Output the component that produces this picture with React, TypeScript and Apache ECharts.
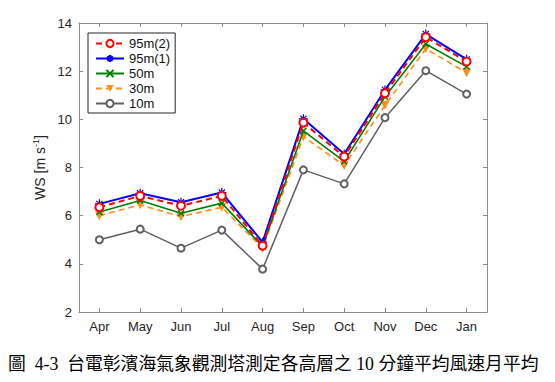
import React, { useEffect, useRef } from "react";
import * as echarts from "echarts";

const months = ["Apr", "May", "Jun", "Jul", "Aug", "Sep", "Oct", "Nov", "Dec", "Jan"];
const ws95m2 = [6.35, 6.82, 6.41, 6.82, 4.75, 9.86, 8.45, 11.08, 13.41, 12.4];
const ws95m1 = [6.49, 6.93, 6.56, 6.96, 4.9, 10.02, 8.56, 11.22, 13.54, 12.49];
const ws50m = [6.15, 6.63, 6.1, 6.52, 4.72, 9.52, 8.25, 10.94, 13.13, 12.19];
const ws30m = [6.0, 6.45, 5.96, 6.35, 4.65, 9.28, 8.08, 10.58, 12.93, 11.93];
const ws10m = [5.0, 5.44, 4.65, 5.4, 3.78, 7.9, 7.32, 10.07, 12.02, 11.05];
const yTicks = { min: 2, max: 14, interval: 2 };
const caption = "圖  4-3  台電彰濱海氣象觀測塔測定各高層之 10 分鐘平均風速月平均";

const FONT = "'Liberation Sans', Arial, Helvetica, sans-serif";
const AXIS_COLOR = "#8c8c8c";
const LABEL_COLOR = "#262626";

const asterisk = "path://M5,0L5,10M0,5L10,5M1.6,1.6L8.4,8.4M8.4,1.6L1.6,8.4";
const cross = "path://M0,0L10,10M10,0L0,10";

export default function App() {
  const ref = useRef<HTMLDivElement>(null);
  useEffect(() => {
    if (!ref.current) return;
    const chart = echarts.init(ref.current, undefined, { renderer: "svg" });
    const axisCommon = {
      axisLine: { show: true, lineStyle: { color: AXIS_COLOR, width: 1 } },
      axisTick: { show: true, inside: true, length: 4, lineStyle: { color: AXIS_COLOR } },
      splitLine: { show: false },
    };
    chart.setOption({
      animation: false,
      backgroundColor: "#ffffff",
      textStyle: { fontFamily: FONT },
      grid: { left: 79, right: 68, top: 23, bottom: 70, containLabel: false },
      legend: {
        orient: "vertical",
        left: 88,
        top: 33,
        backgroundColor: "#ffffff",
        borderColor: "#262626",
        borderWidth: 1,
        padding: [4, 5, 3, 7],
        itemWidth: 28,
        itemHeight: 9,
        itemGap: 2,
        textStyle: { fontSize: 13, color: "#111", fontFamily: FONT },
        data: ["95m(2)", "95m(1)", "50m", "30m", "10m"],
      },
      xAxis: [
        {
          type: "category",
          data: months,
          position: "bottom",
          boundaryGap: true,
          ...axisCommon,
          axisTick: { ...axisCommon.axisTick, alignWithLabel: true },
          axisLabel: { color: LABEL_COLOR, fontSize: 13, margin: 8, fontFamily: FONT },
        },
        {
          type: "category",
          data: months,
          position: "top",
          boundaryGap: true,
          ...axisCommon,
          axisTick: { ...axisCommon.axisTick, alignWithLabel: true },
          axisLabel: { show: false },
        },
      ],
      yAxis: [
        {
          type: "value",
          position: "left",
          ...yTicks,
          ...axisCommon,
          axisLabel: { color: LABEL_COLOR, fontSize: 13, margin: 7, fontFamily: FONT },
          name: "{a|WS [m s}{s|-1}{a|]}",
          nameLocation: "middle",
          nameGap: 22,
          nameTextStyle: {
            rich: {
              a: { fontSize: 14, color: LABEL_COLOR, fontFamily: FONT },
              s: { fontSize: 9, color: LABEL_COLOR, fontFamily: FONT, verticalAlign: "top", padding: [0, 0, 7, 0] },
            },
          },
        },
        {
          type: "value",
          position: "right",
          ...yTicks,
          ...axisCommon,
          axisLabel: { show: false },
        },
      ],
      series: [
        {
          name: "95m(1)",
          type: "line",
          data: ws95m1,
          symbol: asterisk,
          symbolSize: 9,
          lineStyle: { color: "#0000ff", width: 2, type: "solid" },
          itemStyle: { color: "#0000ff", borderColor: "#0000ff", borderWidth: 1.2 },
          z: 3,
        },
        {
          name: "95m(2)",
          type: "line",
          data: ws95m2,
          symbol: "emptyCircle",
          symbolSize: 8,
          lineStyle: { color: "#ff0000", width: 2, type: [6, 4] },
          itemStyle: { color: "#ff0000", borderColor: "#ff0000", borderWidth: 1.5 },
          z: 4,
        },
        {
          name: "50m",
          type: "line",
          data: ws50m,
          symbol: cross,
          symbolSize: 6,
          lineStyle: { color: "#008000", width: 1.6 },
          itemStyle: { color: "#008000", borderColor: "#008000", borderWidth: 1.5 },
          z: 2,
        },
        {
          name: "30m",
          type: "line",
          data: ws30m,
          symbol: "triangle",
          symbolRotate: 180,
          symbolSize: 9,
          lineStyle: { color: "#ff8c1a", width: 1.6, type: [6, 4] },
          itemStyle: { color: "#ff8c1a", borderColor: "#ff8c1a", borderWidth: 0 },
          z: 1,
        },
        {
          name: "10m",
          type: "line",
          data: ws10m,
          symbol: "emptyCircle",
          symbolSize: 7,
          lineStyle: { color: "#606060", width: 1.5 },
          itemStyle: { color: "#606060", borderColor: "#606060", borderWidth: 1.5 },
          z: 1,
        },
      ],
      graphic: [
        {
          type: "text",
          left: 8,
          top: 355,
          style: {
            text: caption,
            font: "17.8px 'Liberation Serif', 'Noto Sans CJK TC', serif",
            fill: "#000",
          },
        },
      ],
    });
    return () => chart.dispose();
  }, []);
  return <div ref={ref} style={{ width: 555, height: 382, position: "absolute", left: 0, top: 0 }} />;
}
